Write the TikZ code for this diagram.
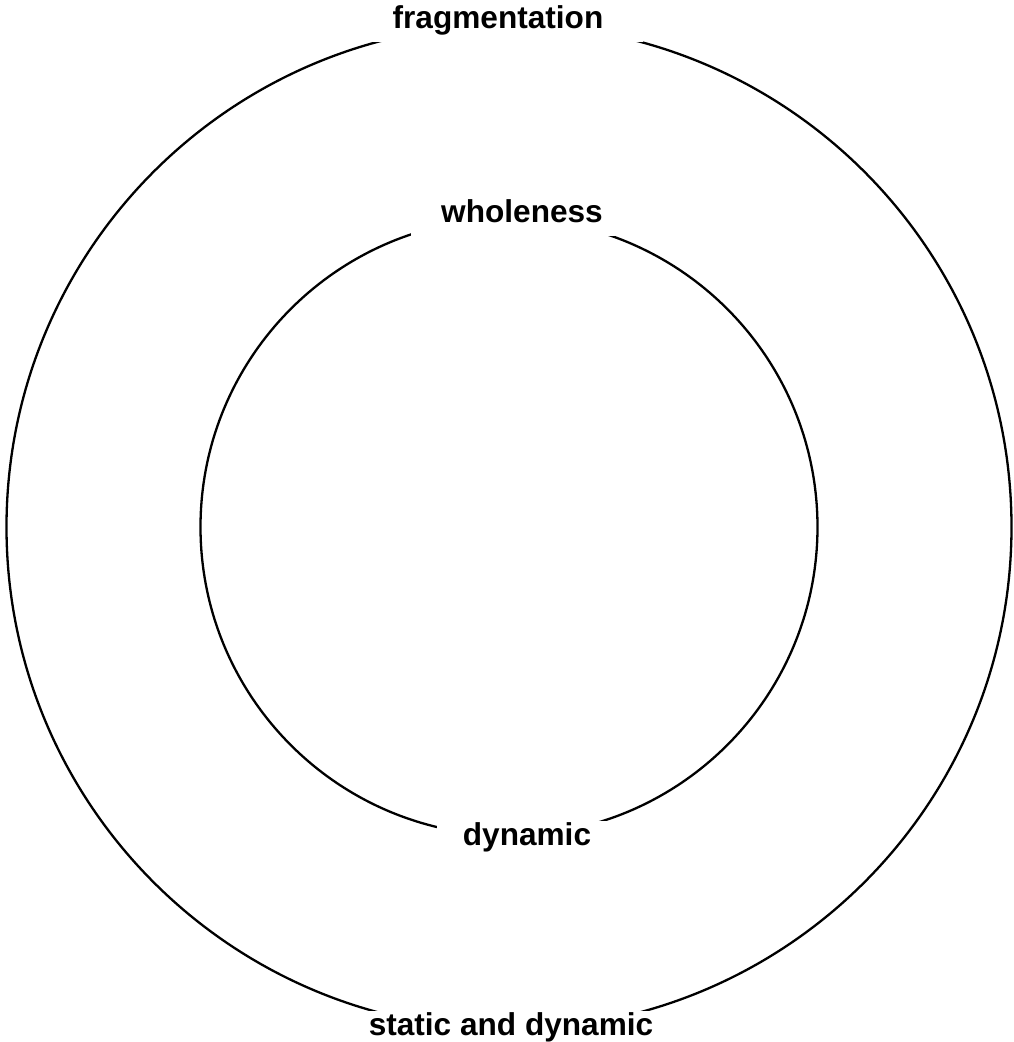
\documentclass[tikz,border=0pt]{standalone}
\usepackage{fontspec}
\setsansfont{Liberation Sans}
\begin{document}
\begin{tikzpicture}[x=1pt, y=-1pt, font=\sffamily\bfseries\fontsize{31.6}{38}\selectfont,
    ring/.style={line width=2.3pt},
    lbl/.style={fill=white, text height=22pt, text depth=12pt, inner ysep=2pt, anchor=base}]
        \useasboundingbox (0,0) rectangle (1014,1042);

        % Kreise
        \draw[ring] (509,527) circle (502.5pt);
        \draw[ring] (509,527) circle (308.5pt);

        % Beschriftungen
        \node[lbl, inner xsep=40pt] (frag) at (498,28) {fragmentation};
        \node[lbl, inner xsep=30pt] (whole) at (522,222) {wholeness};
        \node[lbl, inner xsep=26pt] (dyn) at (527,845) {dynamic};
        \node[lbl, inner xsep=8pt] (stat) at (511,1035) {static and dynamic};
    \end{tikzpicture}
\end{document}
